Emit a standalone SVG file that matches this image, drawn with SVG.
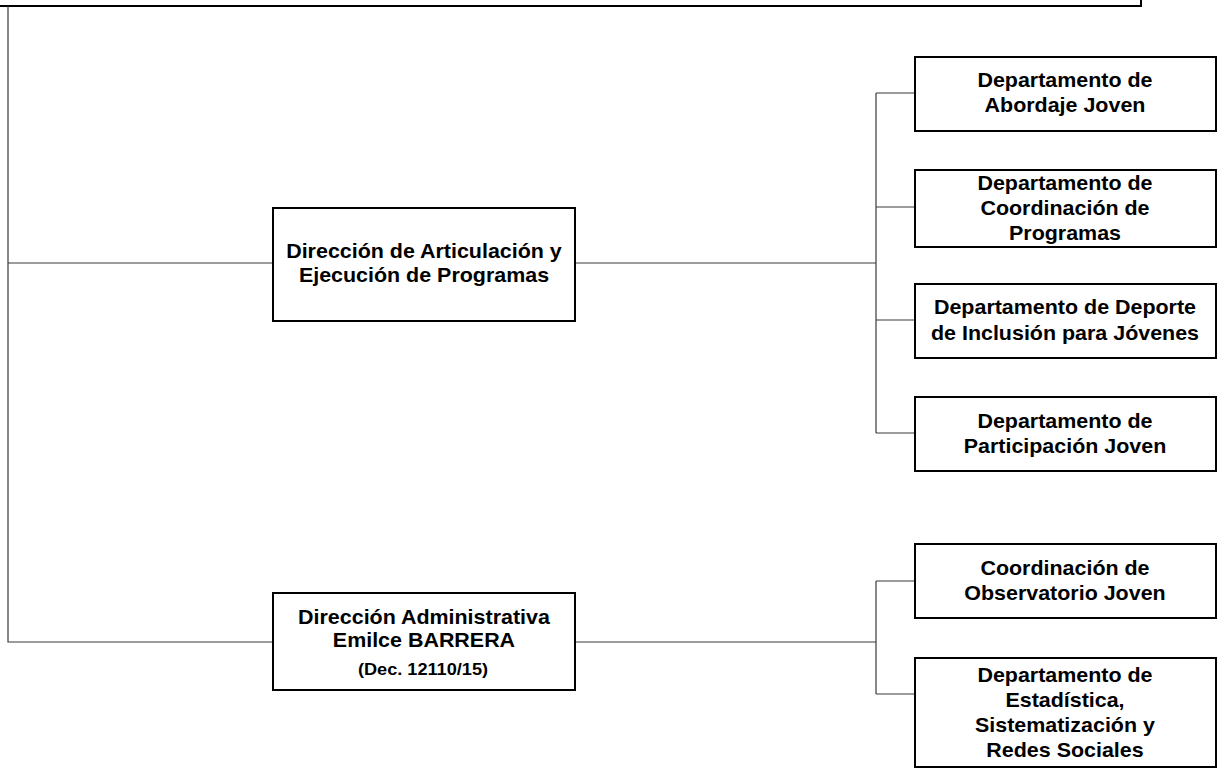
<svg xmlns="http://www.w3.org/2000/svg" width="1222" height="773" viewBox="0 0 1222 773">
<style>
.box{fill:#fff;stroke:#000;stroke-width:2}
.conn{fill:none;stroke:#3a3a3a;stroke-width:1.2}
text{font-family:"Liberation Sans",Arial,sans-serif;font-weight:bold;font-size:19.5px;fill:#000;text-anchor:middle;transform-box:fill-box;transform-origin:center;transform:scaleX(1.1)}
text.small{font-size:16.5px}
</style>
<rect width="1222" height="773" fill="#fff"/>
<g id="top">
<rect class="box" x="-10" y="-60" width="1151" height="66" stroke-width="2.4"/>
</g>
<g id="connectors">
<path class="conn" d="M8,6 V642 H272 M8,263 H272"/>
<path class="conn" d="M575,263 H876 M876,93 V433 M876,93 H914 M876,207 H914 M876,320 H914 M876,433 H914"/>
<path class="conn" d="M575,642 H876 M876,581 V694 M876,581 H914 M876,694 H914"/>
</g>
<g id="dir-articulacion">
<rect class="box" x="273" y="208" width="302" height="113"/>
<text x="424" y="258.5">Dirección de Articulación y</text>
<text x="424" y="282">Ejecución de Programas</text>
</g>
<g id="dir-administrativa">
<rect class="box" x="273" y="593" width="302" height="97"/>
<text x="424" y="624">Dirección Administrativa</text>
<text x="424" y="647">Emilce BARRERA</text>
<text class="small" x="423" y="675.5">(Dec. 12110/15)</text>
</g>
<g id="abordaje">
<rect class="box" x="915" y="57" width="301" height="74"/>
<text x="1065" y="87">Departamento de</text>
<text x="1065" y="112.5">Abordaje Joven</text>
</g>
<g id="coordinacion-programas">
<rect class="box" x="915" y="170" width="301" height="77"/>
<text x="1065" y="190">Departamento de</text>
<text x="1065" y="215">Coordinación de</text>
<text x="1065" y="240">Programas</text>
</g>
<g id="deporte">
<rect class="box" x="915" y="284" width="301" height="74"/>
<text x="1065" y="314">Departamento de Deporte</text>
<text x="1065" y="340">de Inclusión para Jóvenes</text>
</g>
<g id="participacion">
<rect class="box" x="915" y="397" width="301" height="74"/>
<text x="1065" y="428">Departamento de</text>
<text x="1065" y="453">Participación Joven</text>
</g>
<g id="observatorio">
<rect class="box" x="915" y="544" width="301" height="74"/>
<text x="1065" y="575">Coordinación de</text>
<text x="1065" y="600.5">Observatorio Joven</text>
</g>
<g id="estadistica">
<rect class="box" x="915" y="658" width="301" height="109"/>
<text x="1065" y="682">Departamento de</text>
<text x="1065" y="707">Estadística,</text>
<text x="1065" y="732">Sistematización y</text>
<text x="1065" y="757">Redes Sociales</text>
</g>
</svg>
